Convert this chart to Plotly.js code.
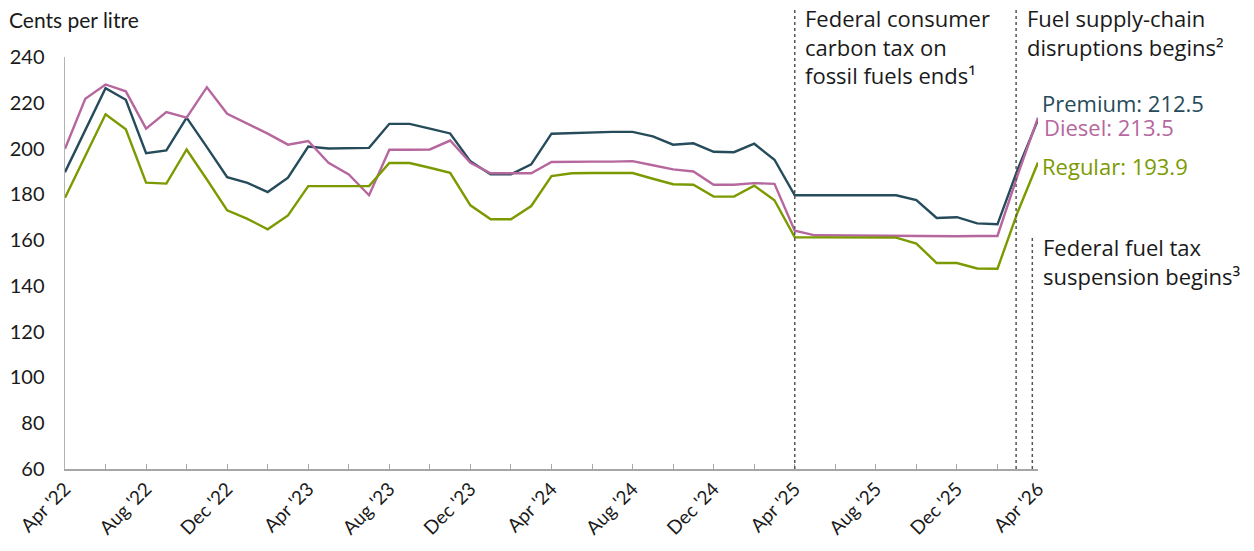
<!DOCTYPE html>
<html>
<head>
<meta charset="utf-8">
<script src="https://cdn.plot.ly/plotly-3.0.1.min.js"></script>
<style>html,body{margin:0;padding:0;background:#fff;}#chart{width:1254px;height:551px;}</style>
</head>
<body>
<div id="chart"></div>
<script>
const months = [
  "Apr '22","May '22","Jun '22","Jul '22","Aug '22","Sep '22","Oct '22","Nov '22","Dec '22",
  "Jan '23","Feb '23","Mar '23","Apr '23","May '23","Jun '23","Jul '23","Aug '23","Sep '23","Oct '23","Nov '23","Dec '23",
  "Jan '24","Feb '24","Mar '24","Apr '24","May '24","Jun '24","Jul '24","Aug '24","Sep '24","Oct '24","Nov '24","Dec '24",
  "Jan '25","Feb '25","Mar '25","Apr '25","May '25","Jun '25","Jul '25","Aug '25","Sep '25","Oct '25","Nov '25","Dec '25",
  "Jan '26","Feb '26","Mar '26","Apr '26"
];
const premium = [
  189.7,208.0,226.4,221.3,198.0,199.2,213.5,200.6,187.5,
  185.0,181.0,187.3,200.9,200.0,200.0,200.3,210.8,210.8,208.7,206.6,194.4,
  188.7,188.7,193.1,206.5,206.8,207.0,207.3,207.3,205.3,201.7,202.3,198.6,
  198.4,202.1,195.1,179.6,179.6,179.6,179.6,179.6,179.6,177.5,169.7,170.0,
  167.3,166.9,191.0,212.5
];
const diesel = [
  199.9,221.7,228.0,225.0,208.7,215.9,213.5,226.8,215.2,
  211.0,206.5,201.7,203.3,193.8,188.7,179.6,199.5,199.5,199.6,203.5,193.8,
  189.2,189.2,189.2,194.1,194.3,194.3,194.3,194.5,192.7,190.9,190.0,184.2,
  184.2,184.9,184.6,164.1,162.1,162.0,162.0,162.0,162.0,161.8,161.5,161.7,
  161.8,161.8,188.5,213.5
];
const regular = [
  178.5,197.0,215.0,208.4,185.1,184.7,199.6,186.5,173.0,
  169.3,164.7,170.8,183.6,183.6,183.6,183.6,193.7,193.7,191.6,189.4,175.2,
  169.1,169.1,174.9,188.0,189.2,189.3,189.3,189.3,186.8,184.4,184.2,179.0,
  179.0,183.8,177.4,161.2,161.2,161.1,161.1,161.1,161.1,158.5,150.0,150.0,
  147.6,147.5,172.3,193.9
];
const tickMonths = ["Apr '22","Jun '22","Aug '22","Oct '22","Dec '22","Feb '23","Apr '23","Jun '23","Aug '23","Oct '23","Dec '23",
  "Feb '24","Apr '24","Jun '24","Aug '24","Oct '24","Dec '24","Feb '25","Apr '25","Jun '25","Aug '25","Oct '25","Dec '25","Feb '26","Apr '26"];
const tickLabels = ["Apr '22","","Aug '22","","Dec '22","","Apr '23","","Aug '23","","Dec '23",
  "","Apr '24","","Aug '24","","Dec '24","","Apr '25","","Aug '25","","Dec '25","","Apr '26"];
const yTicks = [60,80,100,120,140,160,180,200,220,240];
const seriesNames = ["Premium","Diesel","Regular"];
const lastValues = ["212.5","213.5","193.9"];
const eventPositions = [36, 46.92, 47.72];

const C_PREM = '#264b5a', C_DIES = '#b5679e', C_REG = '#7b9a00';
const L = 65, R = 1038, T = 57, B = 469;
const px = x => (x - L) / (R - L);
const py = y => (B - y) / (B - T);
const FONT = 'Lato, "Open Sans", sans-serif';
const AFONT = '"Open Sans", Lato, sans-serif';

const traces = [
  {x: months, y: premium, name: seriesNames[0], type: 'scatter', mode: 'lines', line: {color: C_PREM, width: 2.4}},
  {x: months, y: diesel, name: seriesNames[1], type: 'scatter', mode: 'lines', line: {color: C_DIES, width: 2.4}},
  {x: months, y: regular, name: seriesNames[2], type: 'scatter', mode: 'lines', line: {color: C_REG, width: 2.4}}
];

const ann = (x, y, text, color, size, extra) => Object.assign({
  xref: 'paper', yref: 'paper', x: px(x), y: py(y), text: text, showarrow: false,
  xanchor: 'left', yanchor: 'middle', align: 'left',
  font: {family: AFONT, size: size, color: color}
}, extra || {});

const layout = {
  width: 1254, height: 551,
  margin: {l: L, r: 1254 - R, t: T, b: 551 - B},
  paper_bgcolor: '#fff', plot_bgcolor: '#fff',
  showlegend: false,
  font: {family: FONT, color: '#1a1a1a'},
  xaxis: {
    type: 'category', range: [0, 48],
    tickmode: 'array', tickvals: tickMonths, ticktext: tickLabels,
    tickangle: -45, ticks: 'inside', ticklen: 5, tickcolor: '#a6a6a6', tickwidth: 1,
    showline: true, linecolor: '#a6a6a6', linewidth: 1.5, showgrid: false, zeroline: false,
    tickfont: {family: FONT, size: 19, color: '#1a1a1a'}
  },
  yaxis: {
    range: [60, 240], tickmode: 'array', tickvals: yTicks,
    showline: true, linecolor: '#b3b3b3', linewidth: 1.5, showgrid: false, zeroline: false,
    ticks: '', ticklabelstandoff: 15,
    tickfont: {family: FONT, size: 20, color: '#1a1a1a'}
  },
  shapes: [
    {type: 'line', xref: 'x', yref: 'paper', x0: eventPositions[0], x1: eventPositions[0], y0: 0, y1: py(9), line: {color: '#555', width: 1.5, dash: 'dot'}},
    {type: 'line', xref: 'x', yref: 'paper', x0: eventPositions[1], x1: eventPositions[1], y0: 0, y1: py(10), line: {color: '#555', width: 1.5, dash: 'dot'}},
    {type: 'line', xref: 'x', yref: 'paper', x0: eventPositions[2], x1: eventPositions[2], y0: 0, y1: py(238), line: {color: '#555', width: 1.5, dash: 'dot'}}
  ],
  annotations: [
    ann(7, 20, 'Cents per litre', '#1a1a1a', 21, {font: {family: FONT, size: 21, color: '#1a1a1a'}}),
    ann(803, 46.5, 'Federal consumer<br>carbon tax on<br>fossil fuels ends¹', '#1a1a1a', 22),
    ann(1025, 32.5, 'Fuel supply-chain<br>disruptions begins²', '#1a1a1a', 22),
    ann(1040, 103, seriesNames[0] + ': ' + lastValues[0], C_PREM, 22),
    ann(1042, 127, seriesNames[1] + ': ' + lastValues[1], C_DIES, 22),
    ann(1040, 166, seriesNames[2] + ': ' + lastValues[2], C_REG, 22),
    ann(1041, 261, 'Federal fuel tax<br>suspension begins³', '#1a1a1a', 22)
  ]
};

Plotly.newPlot('chart', traces, layout, {displayModeBar: false, staticPlot: true});
</script>
</body>
</html>
